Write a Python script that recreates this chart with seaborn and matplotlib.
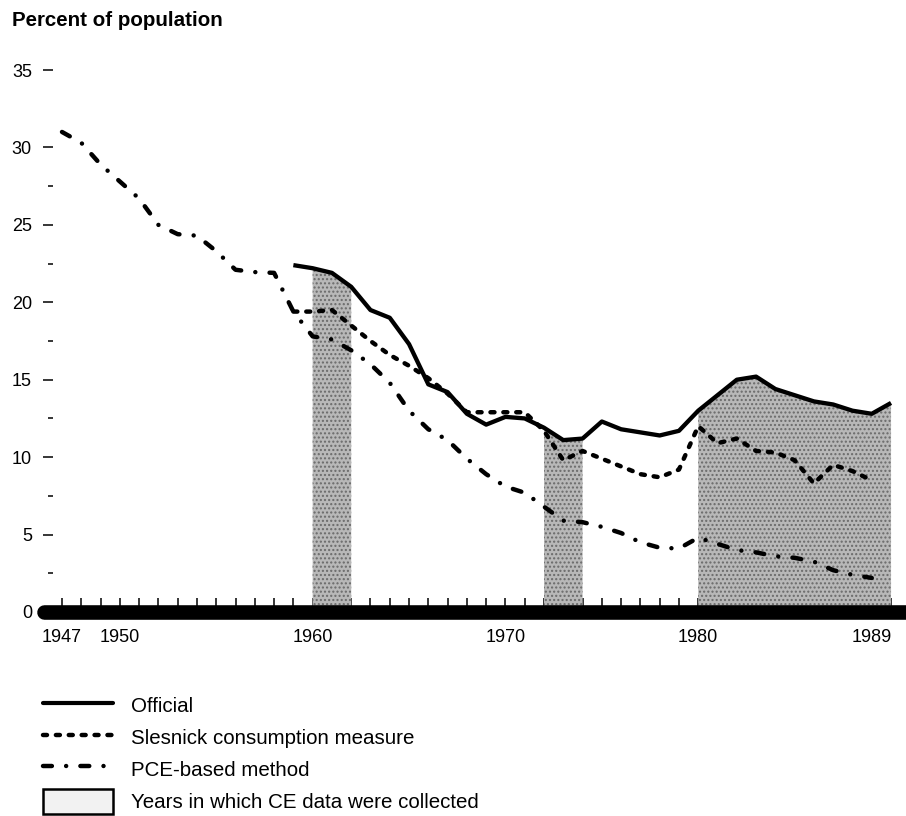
"""
Poverty rate under three measures, 1947-1990, with the years in which
Consumer Expenditure (CE) data were collected shaded.
"""

import pandas as pd
import matplotlib.pyplot as plt
import seaborn as sns
from matplotlib.lines import Line2D
from matplotlib.patches import Patch

# -------------------------------------------------------
# Data
# -------------------------------------------------------
official_years = list(range(1959, 1991))
official = [22.4, 22.2, 21.9, 21.0, 19.5, 19.0, 17.3, 14.7,
            14.2, 12.8, 12.1, 12.6, 12.5, 11.9, 11.1, 11.2,
            12.3, 11.8, 11.6, 11.4, 11.7, 13.0, 14.0, 15.0,
            15.2, 14.4, 14.0, 13.6, 13.4, 13.0, 12.8, 13.5]

slesnick_years = list(range(1959, 1990))
slesnick = [19.4, 19.4, 19.5, 18.5, 17.5, 16.6, 15.9, 15.1,
            14.1, 12.9, 12.9, 12.9, 12.9, 11.7, 9.8, 10.4,
            9.9, 9.4, 8.9, 8.7, 9.2, 12.0, 10.9, 11.2,
            10.4, 10.3, 9.8, 8.3, 9.5, 9.1, 8.5]

pce_years = list(range(1947, 1990))
pce = [31.0, 30.3, 28.9, 27.8, 26.7, 25.0, 24.4, 24.3,
       23.3, 22.1, 21.95, 21.9, 19.4, 17.8, 17.6, 16.9,
       16.0, 14.8, 13.0, 11.8, 11.1, 9.9, 8.9, 8.1,
       7.7, 6.8, 5.9, 5.8, 5.5, 5.1, 4.5, 4.15,
       4.1, 4.8, 4.4, 4.0, 3.85, 3.6, 3.5, 3.25,
       2.7, 2.4, 2.2]

ce_periods = [(1960, 1962), (1972, 1974), (1980, 1990)]

labelled_years = [1947, 1950, 1960, 1970, 1980, 1989]
series_labels = ["Official", "Slesnick consumption measure",
                 "PCE-based method", "Years in which CE data were collected"]

# -------------------------------------------------------
# Style
# -------------------------------------------------------
sns.set_style("ticks")
plt.rcParams.update({
    "font.family": ["Liberation Sans", "DejaVu Sans"],
    "text.color": "black",
    "axes.labelcolor": "black",
    "axes.edgecolor": "black",
    "xtick.color": "black",
    "ytick.color": "black",
})

SLESNICK_LS = (0, (0.9, 2.0))
PCE_LS = (0, (2.0, 3.2, 0.01, 3.2))

fig = plt.figure(figsize=(9.06, 8.16), dpi=100)
ax = fig.add_axes([53 / 906, 0.25, 853 / 906, 0.6642])

# CE shading sits under the official line
ce_mask = [any(a <= y <= b for a, b in ce_periods) for y in official_years]
ax.fill_between(official_years, 0, official, where=ce_mask,
                facecolor="#b8b8b8", edgecolor="#6a6a6a", hatch="....",
                linewidth=0, zorder=1)

sns.lineplot(x=pce_years, y=pce, ax=ax, color="black", lw=3.2,
             linestyle=PCE_LS, dash_capstyle="round", zorder=3)
sns.lineplot(x=slesnick_years, y=slesnick, ax=ax, color="black", lw=3.2,
             linestyle=SLESNICK_LS, dash_capstyle="round", zorder=3)
sns.lineplot(x=official_years, y=official, ax=ax, color="black", lw=3.1,
             solid_capstyle="butt", solid_joinstyle="round", zorder=4)

ax.set_xlim(1946.533, 1990.776)
ax.set_ylim(0, 35)
ax.set_xlabel("")
ax.set_ylabel("")

for side in ["top", "right", "left"]:
    ax.spines[side].set_visible(False)
bar = ax.spines["bottom"]
bar.set_linewidth(10.5)
bar.set_edgecolor("black")
bar.set_capstyle("round")
bar.set_bounds(1946.07, 1992)

ax.set_xticks(list(range(1947, 1991)))
ax.set_xticklabels([str(y) if y in labelled_years else ""
                    for y in range(1947, 1991)])
ax.tick_params(axis="x", direction="in", length=10, width=1.1,
               pad=12, labelsize=13)

ax.set_yticks(list(range(0, 36, 5)))
ax.set_yticks([2.5 + 5 * i for i in range(6)], minor=True)
ax.tick_params(axis="y", which="major", direction="out", length=7.2,
               width=1.1, pad=8, labelsize=13)
ax.tick_params(axis="y", which="minor", direction="out", length=3.6,
               width=1.1)

fig.text(12 / 906, 1 - 26 / 816, "Percent of population",
         fontsize=14.8, fontweight="bold", va="baseline")

handles = [
    Line2D([], [], color="black", lw=3),
    Line2D([], [], color="black", lw=3.2, linestyle=SLESNICK_LS,
           dash_capstyle="round"),
    Line2D([], [], color="black", lw=3.2, linestyle=PCE_LS,
           dash_capstyle="round"),
    Patch(facecolor="#f2f2f2", edgecolor="black", lw=1.8),
]
fig.legend(handles, series_labels, loc="upper left",
           bbox_to_anchor=(43 / 906, 1 - 693 / 816), frameon=False,
           fontsize=14.8, handlelength=3.4, handleheight=1.5,
           handletextpad=0.9, labelspacing=0.33,
           borderpad=0, borderaxespad=0)

fig.savefig("out.png", dpi=100)
plt.close()
